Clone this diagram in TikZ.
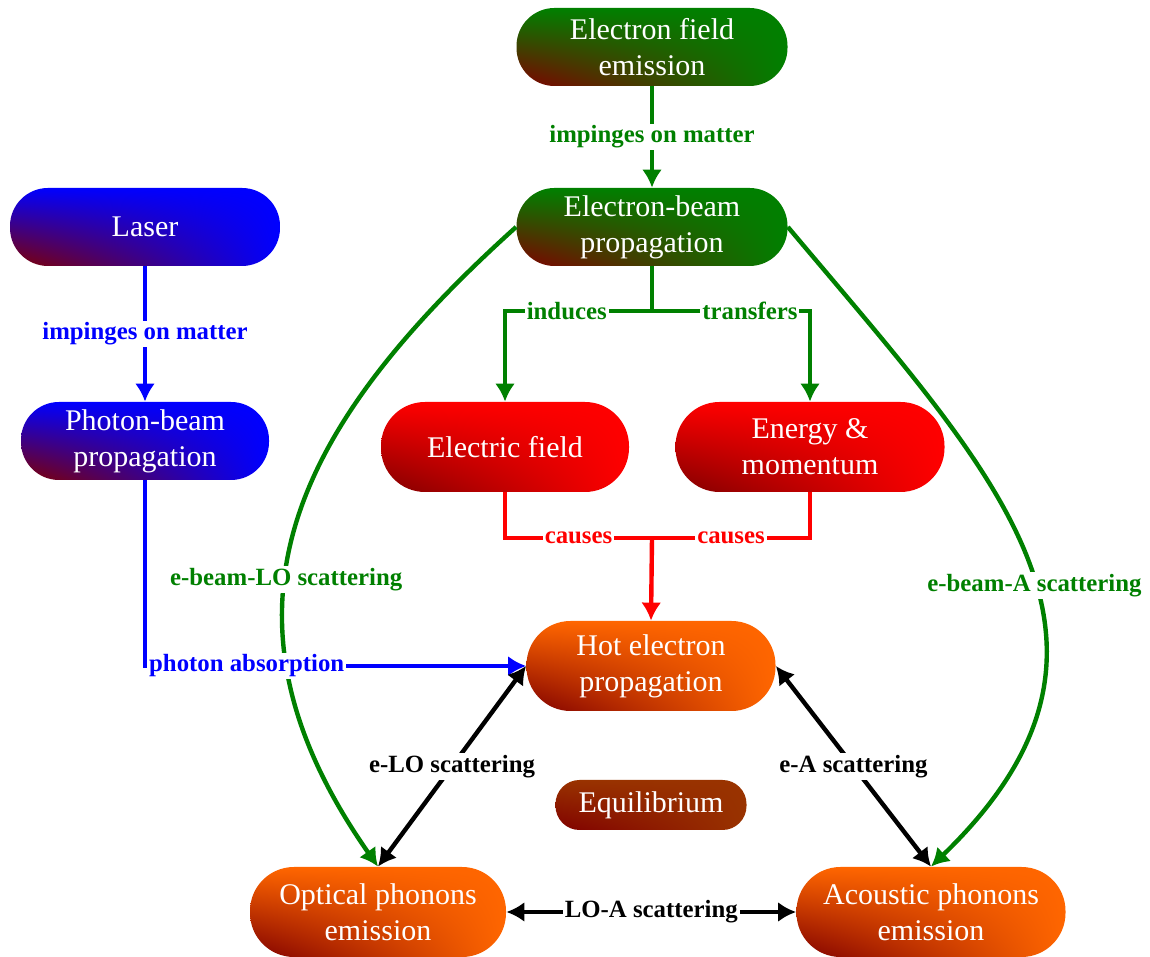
\documentclass[tikz,border=0pt]{standalone}
\usepackage{fontspec}
\setmainfont{Liberation Serif}
\usetikzlibrary{arrows.meta,shadings}
\definecolor{egreen}{RGB}{0,128,0}
\definecolor{dred}{RGB}{128,0,0}
\definecolor{hot}{RGB}{255,102,0}
\definecolor{eqbrown}{RGB}{153,51,0}
\newcommand{\boxfont}{\fontsize{15pt}{18pt}\selectfont}
\newcommand{\lblfont}{\fontsize{12.4pt}{15pt}\selectfont\bfseries}
\tikzset{
  box/.style={text=white, align=center, font=\boxfont, inner sep=0pt},
  flat/.style={box, minimum height=39pt, rounded corners=19pt},
  tall/.style={box, minimum height=45pt, rounded corners=22pt},
  tint/.style={lower left=dred, upper left=#1, upper right=#1, lower right=#1},
  lbl/.style={fill=white, font=\lblfont, inner sep=1pt},
  link/.style={line width=2.2pt, >={Latex[length=9pt,width=10pt]}},
}
\begin{document}
\begin{tikzpicture}[x=0.5pt,y=0.5pt]
  \useasboundingbox (0,0) rectangle (1150,957);

  % sources
  \node[flat, tint=egreen, minimum width=135.5pt] (efe) at (652,910) {Electron field\\emission};
  \node[flat, tint=egreen, minimum width=135.5pt] (ebp) at (652,730) {Electron-beam\\propagation};
  \node[flat, tint=blue, minimum width=135pt] (laser) at (145,730) {Laser};
  \node[flat, tint=blue, minimum width=124pt] (pbp) at (145,516) {Photon-beam\\propagation};

  % effects
  \node[tall, tint=red, minimum width=124pt] (ef) at (505,510) {Electric field};
  \node[tall, tint=red, minimum width=134.5pt] (em) at (810,510) {Energy \&\\momentum};
  \node[tall, tint=hot, minimum width=124.5pt] (hep) at (651,291) {Hot electron\\propagation};
  \node[box, tint=eqbrown, minimum width=95.5pt, minimum height=25pt, rounded corners=12pt] (eq) at (651,152) {Equilibrium};
  \node[tall, tint=hot, minimum width=128pt] (ope) at (378,45) {Optical phonons\\emission};
  \node[tall, tint=hot, minimum width=134.5pt] (ape) at (931,45) {Acoustic phonons\\emission};

  \coordinate (fork) at (652,646);
  \coordinate (join) at (652,419);

  % green
  \draw[link, egreen, ->] (efe) -- node[lbl] {impinges on matter} (ebp);
  \draw[link, egreen] (ebp.south) -- (fork);
  \draw[link, egreen, ->] (fork) -| node[lbl, pos=0.29] {induces} (ef.north);
  \draw[link, egreen, ->] (fork) -| node[lbl, pos=0.31] {transfers} (em.north);
  \draw[link, egreen, ->] (ebp.west) to[out=222, in=125, looseness=1.2]
    node[lbl, pos=0.58] {e-beam-LO scattering} (ope.north);
  \draw[link, egreen, ->] (ebp.east) to[out=-50, in=44, looseness=1.26]
    node[lbl, pos=0.55] {e-beam-A scattering} (ape.north);

  % blue
  \draw[link, blue, ->] (laser) -- node[lbl] {impinges on matter} (pbp);
  \draw[link, blue, ->] (pbp.south) |- node[lbl, pos=0.5, anchor=west] {photon absorption} (hep.west);

  % red
  \draw[link, red] (ef.south) |- node[lbl, pos=0.75] {causes} (join);
  \draw[link, red] (em.south) |- node[lbl, pos=0.75] {causes} (join);
  \draw[link, red, ->] (join) -- (hep.north);

  % black
  \draw[link, <->] (ope.north) -- node[lbl] {e-LO scattering} (hep.west);
  \draw[link, <->] (ape.north) -- node[lbl] {e-A scattering} (hep.east);
  \draw[link, <->] (ope.east) -- node[lbl] {LO-A scattering} (ape.west);
\end{tikzpicture}
\end{document}
